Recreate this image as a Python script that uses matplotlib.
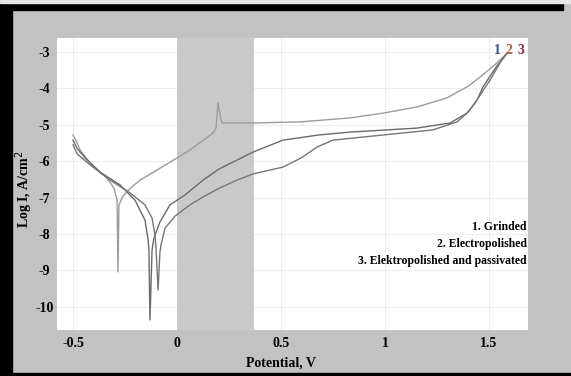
import matplotlib
matplotlib.use('Agg')
import matplotlib.pyplot as plt
from matplotlib.patches import Rectangle

# Potentiodynamic polarization curves: potential (V) vs log current density
pot_1 = [-0.50, -0.48, -0.466, -0.418, -0.337, -0.303, -0.288, -0.284, -0.279, -0.26,
         -0.22, -0.178, -0.096, 0.0, 0.0625, 0.173, 0.1875, 0.197, 0.207, 0.216,
         0.231, 0.365, 0.591, 0.832, 0.99, 1.154, 1.298, 1.40, 1.457, 1.538, 1.587]
log_1 = [-5.28, -5.50, -5.69, -6.05, -6.46, -6.74, -7.07, -9.04, -7.2, -6.96,
         -6.72, -6.52, -6.24, -5.91, -5.69, -5.23, -5.09, -4.40, -4.73, -4.95,
         -4.95, -4.95, -4.92, -4.81, -4.68, -4.51, -4.26, -3.94, -3.69, -3.30, -3.03]

pot_2 = [-0.50, -0.48, -0.442, -0.37, -0.274, -0.202, -0.154, -0.139, -0.135, -0.13,
         -0.12, -0.111, -0.082, -0.034, 0.038, 0.125, 0.20, 0.288, 0.365, 0.51,
         0.68, 0.832, 1.154, 1.3125, 1.394, 1.44, 1.471, 1.538, 1.587]
log_2 = [-5.42, -5.65, -5.91, -6.30, -6.65, -7.07, -7.62, -8.16, -8.44, -10.36,
         -8.44, -8.11, -7.67, -7.20, -6.93, -6.52, -6.22, -5.97, -5.75, -5.42,
         -5.28, -5.20, -5.09, -4.95, -4.68, -4.35, -3.96, -3.38, -3.03]

pot_3 = [-0.50, -0.48, -0.418, -0.322, -0.226, -0.154, -0.12, -0.106, -0.101, -0.091,
         -0.082, -0.077, -0.058, -0.01, 0.0625, 0.125, 0.20, 0.288, 0.365, 0.51,
         0.60, 0.673, 0.75, 0.99, 1.23, 1.346, 1.40, 1.442, 1.505, 1.553, 1.587]
log_3 = [-5.55, -5.80, -6.10, -6.52, -6.87, -7.20, -7.56, -8.03, -8.38, -9.54,
         -8.49, -8.30, -7.84, -7.51, -7.20, -6.98, -6.75, -6.52, -6.35, -6.16,
         -5.90, -5.61, -5.42, -5.28, -5.14, -4.92, -4.65, -4.32, -3.77, -3.30, -3.03]

x_ticks = [-0.5, 0, 0.5, 1, 1.5]
x_labels = ['-0.5', '0', '0.5', '1', '1.5']
y_ticks = [-3, -4, -5, -6, -7, -8, -9, -10]
y_labels = ['-3', '-4', '-5', '-6', '-7', '-8', '-9', '-10']
band = (0.0, 0.37)
legend_lines = ['1. Grinded', '2. Electropolished', '3. Elektropolished and passivated']

W, H = 571, 376
font = 'Liberation Serif'

fig = plt.figure(figsize=(W / 100, H / 100), dpi=100)
fig.patch.set_facecolor('#c2c2c2')

# black frame (left, top, bottom) like the original screenshot
fig.patches.append(Rectangle((0, 0), 12 / W, 1, transform=fig.transFigure,
                             color='black', zorder=0))
fig.patches.append(Rectangle((0, 1 - 10 / H), 563 / W, 7 / H, transform=fig.transFigure,
                             color='black', zorder=0))
fig.patches.append(Rectangle((0, 1 - 3 / H), 1, 3 / H, transform=fig.transFigure,
                             color='#e6e6e6', zorder=0))
fig.patches.append(Rectangle((0, 0), 1, 3 / H, transform=fig.transFigure,
                             color='black', zorder=0))

ax = fig.add_axes([57 / W, 46 / H, 471 / W, 292 / H])
ax.set_facecolor('white')
ax.set_xlim(-0.577, 1.6875)
ax.set_ylim(-10.637, -2.615)

ax.axvspan(band[0], band[1], color='#c9c9c9', lw=0, zorder=1)
for x in x_ticks:
    ax.axvline(x, color='#eeeeee', lw=0.8, zorder=0.5)
for y in y_ticks:
    ax.axhline(y, color='#eeeeee', lw=0.8, zorder=0.5)

ax.plot(pot_1, log_1, color='#9c9c9c', lw=1.0, zorder=3)
ax.plot(pot_2, log_2, color='#6a6a6a', lw=1.0, zorder=3)
ax.plot(pot_3, log_3, color='#767676', lw=1.0, zorder=3)

for s in ax.spines.values():
    s.set_visible(False)

ax.set_xticks(x_ticks)
ax.set_xticklabels(x_labels, fontfamily=font, fontweight='bold', fontsize=10)
ax.set_yticks(y_ticks)
ax.set_yticklabels(y_labels, fontfamily=font, fontweight='bold', fontsize=10)
ax.tick_params(length=0)
ax.tick_params(axis='x', pad=5)
ax.tick_params(axis='y', pad=9)
for lbl in ax.get_yticklabels():
    lbl.set_horizontalalignment('center')

fig.text(281 / W, 1 - 363 / H, 'Potential, V', ha='center', va='center',
         fontfamily=font, fontweight='bold', fontsize=10)
fig.text(24 / W, 1 - 189 / H, 'Log I, A/cm$^2$', ha='center', va='center',
         rotation=90, fontfamily=font, fontweight='bold', fontsize=10)

for txt, yy in zip(legend_lines, [227, 244, 261]):
    fig.text(527 / W, 1 - yy / H, txt, ha='right', va='center',
             fontfamily=font, fontweight='bold', fontsize=8.5)

for txt, xx, col in zip(['1', '2', '3'], [497, 509, 521], ['#34507e', '#b0603c', '#7e2c3c']):
    fig.text(xx / W, 1 - 50 / H, txt, ha='center', va='center', color=col,
             fontfamily=font, fontweight='bold', fontsize=10)

fig.savefig('out.png', dpi=100, facecolor=fig.get_facecolor())
